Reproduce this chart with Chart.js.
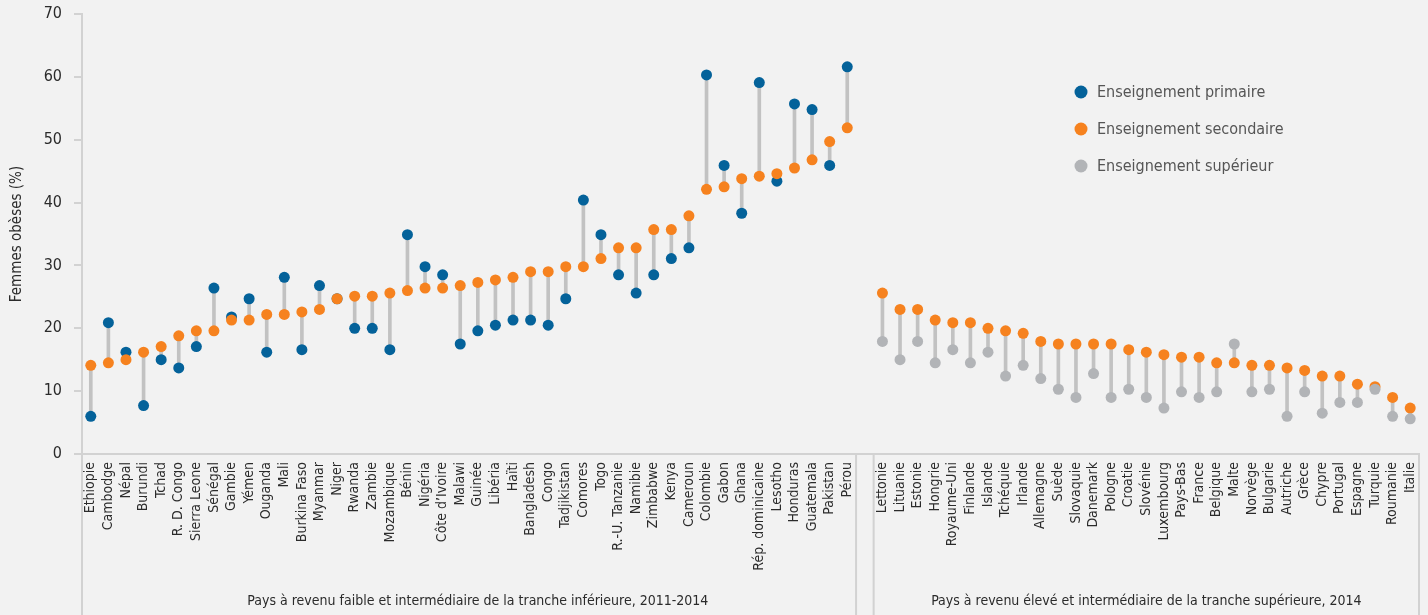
<!DOCTYPE html>
<html lang="fr">
<head>
<meta charset="utf-8">
<title>Femmes obèses selon le niveau d'instruction</title>
<script src="https://cdn.jsdelivr.net/npm/chart.js@4.4.1/dist/chart.umd.min.js"></script>
<style>
    html, body { margin: 0; padding: 0; background: #f2f2f2; }
    #obesityChart { display: block; }
</style>
</head>
<body>
<canvas id="obesityChart" width="1428" height="615"></canvas>
<script>
// Low and lower-middle income countries, 2011-2014
const leftCountries = ['Éthiopie', 'Cambodge', 'Népal', 'Burundi', 'Tchad', 'R. D. Congo', 'Sierra Leone', 'Sénégal',
    'Gambie', 'Yémen', 'Ouganda', 'Mali', 'Burkina Faso', 'Myanmar', 'Niger', 'Rwanda', 'Zambie', 'Mozambique',
    'Bénin', 'Nigéria', 'Côte d’Ivoire', 'Malawi', 'Guinée', 'Libéria', 'Haïti', 'Bangladesh', 'Congo',
    'Tadjikistan', 'Comores', 'Togo', 'R.-U. Tanzanie', 'Namibie', 'Zimbabwe', 'Kenya', 'Cameroun', 'Colombie',
    'Gabon', 'Ghana', 'Rép. dominicaine', 'Lesotho', 'Honduras', 'Guatemala', 'Pakistan', 'Pérou'];
const leftPrimary = [6.0, 20.9, 16.2, 7.7, 15.0, 13.7, 17.1, 26.4, 21.8, 24.7, 16.2, 28.1, 16.6, 26.8, 24.7, 20.0,
    20.0, 16.6, 34.9, 29.8, 28.5, 17.5, 19.6, 20.5, 21.3, 21.3, 20.5, 24.7, 40.4, 34.9, 28.5, 25.6, 28.5, 31.1,
    32.8, 60.3, 45.9, 38.3, 59.1, 43.4, 55.7, 54.8, 45.9, 61.6];
const leftSecondary = [14.1, 14.5, 15.0, 16.2, 17.1, 18.8, 19.6, 19.6, 21.3, 21.3, 22.2, 22.2, 22.6, 23.0, 24.7, 25.1,
    25.1, 25.6, 26.0, 26.4, 26.4, 26.8, 27.3, 27.7, 28.1, 29.0, 29.0, 29.8, 29.8, 31.1, 32.8, 32.8, 35.7, 35.7,
    37.9, 42.1, 42.5, 43.8, 44.2, 44.6, 45.5, 46.8, 49.7, 51.9];

// High and upper-middle income countries, 2014
const rightCountries = ['Lettonie', 'Lituanie', 'Estonie', 'Hongrie', 'Royaume-Uni', 'Finlande', 'Islande',
    'Tchéquie', 'Irlande', 'Allemagne', 'Suède', 'Slovaquie', 'Danemark', 'Pologne', 'Croatie', 'Slovénie',
    'Luxembourg', 'Pays-Bas', 'France', 'Belgique', 'Malte', 'Norvège', 'Bulgarie', 'Autriche', 'Grèce', 'Chypre',
    'Portugal', 'Espagne', 'Turquie', 'Roumanie', 'Italie'];
const rightSecondary = [25.6, 23.0, 23.0, 21.3, 20.9, 20.9, 20.0, 19.6, 19.2, 17.9, 17.5, 17.5, 17.5, 17.5, 16.6,
    16.2, 15.8, 15.4, 15.4, 14.5, 14.5, 14.1, 14.1, 13.7, 13.3, 12.4, 12.4, 11.1, 10.7, 9.0, 7.3];
const rightTertiary = [17.9, 15.0, 17.9, 14.5, 16.6, 14.5, 16.2, 12.4, 14.1, 12.0, 10.3, 9.0, 12.8, 9.0, 10.3, 9.0,
    7.3, 9.9, 9.0, 9.9, 17.5, 9.9, 10.3, 6.0, 9.9, 6.5, 8.2, 8.2, 10.3, 6.0, 5.6];

const seriesNames = ['Enseignement primaire', 'Enseignement secondaire', 'Enseignement supérieur'];
const groupTitles = ['Pays à revenu faible et intermédiaire de la tranche inférieure, 2011-2014',
    'Pays à revenu élevé et intermédiaire de la tranche supérieure, 2014'];
const yTicks = [0, 10, 20, 30, 40, 50, 60, 70];

const COLORS = { primary: '#04629a', secondary: '#f6821f', tertiary: '#b2b4b7', stem: '#c2c2c2' };
const FRAME_COLOR = '#d2d2d2';
const TEXT_COLOR = '#2b2b2b';
const FONT = '"Liberation Sans Narrow", "DejaVu Sans Condensed", "Open Sans", sans-serif';

class ObesityChart {
    constructor(canvas) {
        this.canvas = canvas;
        this.buildSeries();
        this.render();
    }

    buildSeries() {
        const gap = [null];
        const leftBlank = leftCountries.map(() => null);
        const rightBlank = rightCountries.map(() => null);

        this.labels = leftCountries.concat([''], rightCountries);
        this.primary = leftPrimary.concat(gap, rightBlank);
        this.secondary = leftSecondary.concat(gap, rightSecondary);
        this.tertiary = leftBlank.concat(gap, rightTertiary);
        // grey stems joining the two dots of each country
        this.stems = leftPrimary.map((v, i) => [v, leftSecondary[i]])
            .concat(gap, rightSecondary.map((v, i) => [v, rightTertiary[i]]));
    }

    dotDataset(label, data, color, order) {
        return {
            type: 'line',
            label,
            data,
            order,
            showLine: false,
            pointRadius: 5.5,
            pointHoverRadius: 5.5,
            pointBorderWidth: 0,
            pointBackgroundColor: color,
            backgroundColor: color,
            borderColor: color
        };
    }

    render() {
        Chart.defaults.font.family = FONT;
        Chart.defaults.color = TEXT_COLOR;

        this.chart = new Chart(this.canvas, {
            type: 'line',
            data: {
                labels: this.labels,
                datasets: [
                    this.dotDataset(seriesNames[0], this.primary, COLORS.primary, 3),
                    this.dotDataset(seriesNames[1], this.secondary, COLORS.secondary, 2),
                    this.dotDataset(seriesNames[2], this.tertiary, COLORS.tertiary, 1),
                    {
                        type: 'bar',
                        label: 'stems',
                        data: this.stems,
                        order: 4,
                        backgroundColor: COLORS.stem,
                        borderWidth: 0,
                        barThickness: 3
                    }
                ]
            },
            options: {
                responsive: false,
                animation: false,
                layout: { padding: { top: 14, right: 9, bottom: 0, left: 0 } },
                plugins: {
                    legend: { display: false },
                    tooltip: { enabled: false }
                },
                scales: {
                    x: {
                        type: 'category',
                        offset: true,
                        grid: { drawOnChartArea: false, drawTicks: false },
                        border: { display: true, color: FRAME_COLOR, width: 2 },
                        ticks: {
                            autoSkip: false,
                            maxRotation: 90,
                            minRotation: 90,
                            padding: 8,
                            font: { size: 14 },
                            color: TEXT_COLOR
                        },
                        afterFit: scale => {
                            scale.height = 161;
                            scale.paddingLeft = 0;
                            scale.paddingRight = 0;
                        }
                    },
                    y: {
                        min: 0,
                        max: 70,
                        afterBuildTicks: scale => { scale.ticks = yTicks.map(value => ({ value })); },
                        grid: { drawOnChartArea: false, tickLength: 8, color: FRAME_COLOR, lineWidth: 2 },
                        border: { display: true, color: FRAME_COLOR, width: 2 },
                        ticks: { padding: 12, font: { size: 16 }, color: TEXT_COLOR },
                        title: {
                            display: true,
                            text: 'Femmes obèses (%)',
                            font: { size: 15 },
                            color: TEXT_COLOR,
                            padding: { top: 8, bottom: 0 }
                        },
                        afterFit: scale => {
                            scale.width = 82;
                            scale.paddingTop = 0;
                            scale.paddingBottom = 0;
                        }
                    }
                }
            },
            plugins: [this.framePlugin()]
        });
    }

    framePlugin() {
        const legendColors = [COLORS.primary, COLORS.secondary, COLORS.tertiary];
        return {
            id: 'groupFrames',
            afterDraw(chart) {
                const { ctx, chartArea, scales: { x } } = chart;
                const half = (x.getPixelForValue(1) - x.getPixelForValue(0)) / 2;
                const gapIndex = leftCountries.length;
                const leftEnd = x.getPixelForValue(gapIndex - 1) + half;
                const rightStart = x.getPixelForValue(gapIndex + 1) - half;
                const bottom = chart.height;

                ctx.save();
                ctx.strokeStyle = FRAME_COLOR;
                ctx.lineWidth = 2;
                [chartArea.left, leftEnd, rightStart, chartArea.right].forEach(px => {
                    ctx.beginPath();
                    ctx.moveTo(px, chartArea.bottom);
                    ctx.lineTo(px, bottom);
                    ctx.stroke();
                });

                // group captions under the country names
                ctx.fillStyle = TEXT_COLOR;
                ctx.font = '14px ' + FONT;
                ctx.textAlign = 'center';
                ctx.textBaseline = 'middle';
                ctx.fillText(groupTitles[0], (chartArea.left + rightStart) / 2, bottom - 14);
                ctx.fillText(groupTitles[1], (rightStart + chartArea.right) / 2, bottom - 14);

                // legend
                ctx.font = '16px ' + FONT;
                ctx.textAlign = 'left';
                seriesNames.forEach((name, i) => {
                    const cy = 92 + i * 37;
                    ctx.beginPath();
                    ctx.arc(1081, cy, 6.5, 0, Math.PI * 2);
                    ctx.fillStyle = legendColors[i];
                    ctx.fill();
                    ctx.fillStyle = '#555555';
                    ctx.fillText(name, 1097, cy + 1);
                });
                ctx.restore();
            }
        };
    }
}

document.addEventListener('DOMContentLoaded', () => {
    window.obesityChart = new ObesityChart(document.getElementById('obesityChart'));
});
</script>
</body>
</html>
